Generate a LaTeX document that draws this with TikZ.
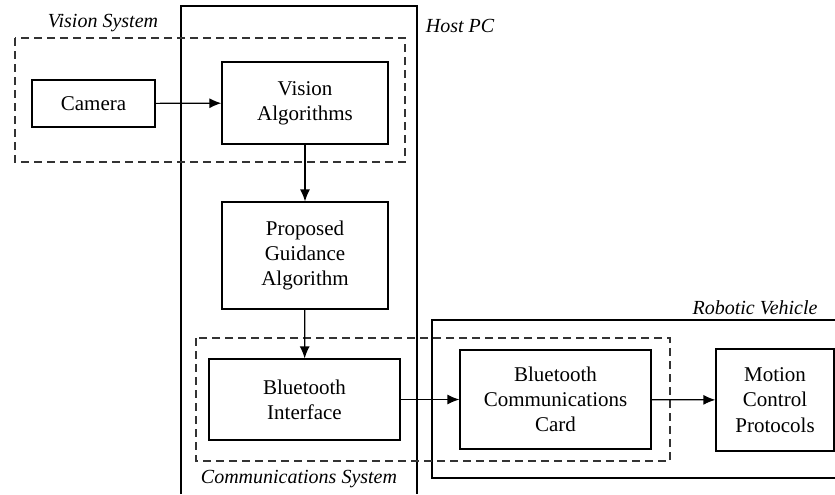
\documentclass[tikz,border=0pt]{standalone}
\usepackage{fontspec}
\setmainfont{Liberation Serif}
\usepackage{tikz}
\usetikzlibrary{arrows.meta}
\tikzset{block/.style={draw, line width=0.6pt, inner sep=0, align=center}}
\tikzset{group/.style={draw=black!80, line width=0.6pt, dash pattern=on 4pt off 2.5pt}}
\tikzset{frame/.style={draw, line width=0.6pt}}
\tikzset{tag/.style={font=\itshape, inner sep=0}}
\tikzset{every edge/.style={draw, line width=0.6pt}}
\tikzset{>={Latex[length=6pt, width=5pt]}}

\begin{document}
\begin{tikzpicture}[x=0.5pt, y=-0.5pt, font=\fontsize{10.5}{12.6}\selectfont]
  \useasboundingbox (0,0) rectangle (835,494);

  % outer groups
  \draw[frame] (181,494) -- (181,6) -- (417,6) -- (417,494);
  \draw[frame] (840,320) -- (432,320) -- (432,478) -- (840,478);
  \draw[group] (15,38) rectangle (405,162);
  \draw[group] (196,338) rectangle (670,461);

  \node[tag] at (103,23) (visionsys) {Vision System};
  \node[tag] at (460,26) (host) {Host PC};
  \node[tag] at (755,308) (robot) {Robotic Vehicle};
  \node[tag] at (299,479) (comms) {Communications System};

  % blocks
  \node[block, minimum width=61.5pt, minimum height=23.5pt] at (93.5,103.5) (cam) {Camera};
  \node[block, minimum width=83pt, minimum height=41pt] at (305,103) (VA) {Vision\\Algorithms};
  \node[block, minimum width=83pt, minimum height=53.5pt] at (305,255.5) (guide) {Proposed\\Guidance\\Algorithm};
  \node[block, minimum width=95.5pt, minimum height=40.5pt] at (304.5,399.5) (btif) {Bluetooth\\Interface};
  \node[block, minimum width=95.5pt, minimum height=49.5pt] at (555.5,399.5) (btcard) {Bluetooth\\Communications\\Card};
  \node[block, minimum width=59pt, minimum height=51pt] at (775,400) (motion) {Motion\\Control\\Protocols};

  \draw (cam) edge[->] (VA);
  \draw (VA) edge[->] (guide);
  \draw (guide) edge[->] (btif);
  \draw (btif) edge[->] (btcard);
  \draw (btcard) edge[->] (motion);
\end{tikzpicture}
\end{document}
